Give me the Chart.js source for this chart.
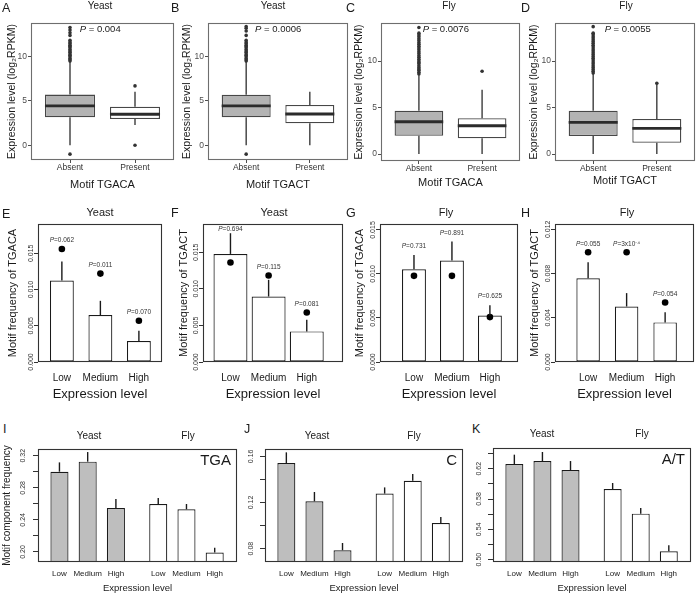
<!DOCTYPE html>
<html>
<head>
<meta charset="utf-8">
<script src="https://cdn.jsdelivr.net/npm/chart.js@4.4.1/dist/chart.umd.min.js"></script>
<style>
  html, body { margin: 0; padding: 0; background: #fff; }
  #fig { position: relative; width: 700px; height: 594px; overflow: hidden; background: #fff;
         font-family: "Liberation Sans", Arial, Helvetica, sans-serif; color: #1a1a1a; }
  #fig canvas { position: absolute; }
  .t { position: absolute; transform: translate(-50%, -50%); line-height: 1; white-space: nowrap; }
  .let { position: absolute; transform: translateY(-50%); line-height: 1; font-size: 12.5px; color: #1a1a1a; }
</style>
</head>
<body>
<div id="fig"></div>
<script>
// ---------- data ----------
// top row: boxplots, [lower whisker, Q1, median, Q3, upper whisker] for Absent / Present
const boxGroups = ['Absent', 'Present'];
const boxTicks = [0, 5, 10];
const boxTickLabels = ['0', '5', '10'];
const yeastTGACA_box = [[0, 3.16, 4.44, 5.72, 9.4], [2.3, 2.97, 3.5, 4.36, 6.05]];
const yeastTGACT_box = [[0, 3.16, 4.44, 5.7, 9.4], [0, 2.48, 3.53, 4.55, 6.05]];
const flyTGACA_box = [[0, 1.96, 3.47, 4.66, 8.5], [0, 1.69, 3.04, 3.84, 6.9]];
const flyTGACT_box = [[0, 1.94, 3.4, 4.66, 8.6], [0, 1.22, 2.76, 3.76, 7.45]];
// outliers
const yeastTGACA_out = [[9.5, 9.65, 9.8, 10.0, 10.15, 10.3, 10.5, 10.65, 10.8, 11.0, 11.15, 11.3, 11.5, 11.65, 11.85, 12.4, 12.7, 13.0, 13.3, -1.0], [6.7, 0]];
const yeastTGACT_out = [[9.5, 9.65, 9.8, 10.0, 10.15, 10.3, 10.5, 10.65, 10.8, 11.0, 11.15, 11.3, 11.5, 11.65, 11.85, 12.4, 12.9, 13.2, 13.4, -1.0], []];
const flyTGACA_out = [[8.6, 8.8, 9.0, 9.15, 9.3, 9.5, 9.7, 9.85, 10.0, 10.2, 10.4, 10.6, 10.8, 11.0, 11.2, 11.4, 11.6, 11.8, 12.0, 12.2, 12.4, 12.6, 12.8, 13.0, 13.6], [8.9]];
const flyTGACT_out = [[8.7, 8.9, 9.1, 9.3, 9.5, 9.7, 9.9, 10.1, 10.3, 10.5, 10.7, 10.9, 11.1, 11.3, 11.5, 11.7, 11.9, 12.1, 12.3, 12.5, 12.7, 12.9, 13.0, 13.7], [7.6]];
const pBox = ['0.004', '0.0006', '0.0076', '0.0055'];

// middle row: motif frequency by expression level
const levels = ['Low', 'Medium', 'High'];
const freqE = [0.01124, 0.00647, 0.00289];
const errE = [0.01385, 0.00844, 0.00431];
const dotE = [0.0156, 0.0122, 0.00569];
const pE = ['0.062', '0.011', '0.070'];
const freqF = [0.01477, 0.00895, 0.00418];
const errF = [0.0176, 0.01123, 0.00577];
const dotF = [0.0136, 0.01182, 0.00677];
const pF = ['0.694', '0.115', '0.081'];
const freqG = [0.01054, 0.01153, 0.00529];
const errG = [0.01217, 0.01368, 0.00646];
const dotG = [0.00979, 0.00979, 0.0051];
const pG = ['0.731', '0.891', '0.625'];
const freqH = [0.00758, 0.00502, 0.00358];
const errH = [0.00902, 0.00623, 0.00451];
const dotH = [0.00992, 0.00992, 0.00538];
const pH = ['0.055', '3x10\u207B\u2074', '0.054'];
const ticks015 = [0, 0.005, 0.01, 0.015];
const ticks015Labels = ['0.000', '0.005', '0.010', '0.015'];
const ticks012 = [0, 0.004, 0.008, 0.012];
const ticks012Labels = ['0.000', '0.004', '0.008', '0.012'];

// bottom row: motif component frequency, yeast then fly
const compLevels = ['Low', 'Medium', 'High', 'Low', 'Medium', 'High'];
const tgaYeast = [0.3001, 0.3126, 0.2548];
const tgaYeastErr = [0.3117, 0.3246, 0.266];
const tgaFly = [0.2598, 0.2532, 0.1992];
const tgaFlyErr = [0.2673, 0.2598, 0.2054];
const cYeast = [0.1542, 0.121, 0.0786];
const cYeastErr = [0.1635, 0.1291, 0.0849];
const cFly = [0.1277, 0.1389, 0.1022];
const cFlyErr = [0.1331, 0.1447, 0.1074];
const atYeast = [0.6262, 0.6301, 0.6182];
const atYeastErr = [0.6385, 0.642, 0.6301];
const atFly = [0.5932, 0.5607, 0.511];
const atFlyErr = [0.6011, 0.5681, 0.5189];
const ticksTGA = [0.2, 0.22, 0.24, 0.26, 0.28, 0.3, 0.32];
const ticksTGALabels = ['0.20', '', '0.24', '', '0.28', '', '0.32'];
const ticksC = [0.08, 0.1, 0.12, 0.14, 0.16];
const ticksCLabels = ['0.08', '', '0.12', '', '0.16'];
const ticksAT = [0.5, 0.52, 0.54, 0.56, 0.58, 0.6, 0.62, 0.64];
const ticksATLabels = ['0.50', '', '0.54', '', '0.58', '', '0.62', ''];

// ---------- drawing ----------
const FAM = '"Liberation Sans", Arial, Helvetica, sans-serif';
Chart.defaults.font.family = FAM;
Chart.defaults.color = '#1a1a1a';
const fig = document.getElementById('fig');

const boxSlots = [1, 2];
const barSlots = [1, 2, 3];
const compSlots = [1, 2, 3, 4.5, 5.5, 6.5];
const gray = '#bebebe';

function pText(ctx, rest, x, y, size, align) {
  ctx.textBaseline = 'middle';
  ctx.font = 'italic ' + size + 'px ' + FAM;
  const w1 = ctx.measureText('P').width;
  ctx.font = size + 'px ' + FAM;
  const w2 = ctx.measureText(rest).width;
  const x0 = align === 'center' ? x - (w1 + w2) / 2 : x;
  ctx.textAlign = 'left';
  ctx.font = 'italic ' + size + 'px ' + FAM;
  ctx.fillText('P', x0, y);
  ctx.font = size + 'px ' + FAM;
  ctx.fillText(rest, x0 + w1, y);
}

function makeDeco(p) {
  return {
    id: 'deco',
    afterDatasetsDraw(chart) {
      const {ctx, chartArea: a, scales: {y}} = chart;
      const bars = chart.getDatasetMeta(0).data;
      ctx.save();
      // boxplot whiskers and medians
      if (p.stats) {
        p.stats.forEach((s, i) => {
          const el = bars[i];
          ctx.strokeStyle = '#3d3d3d';
          ctx.lineWidth = 1.4;
          ctx.beginPath();
          ctx.moveTo(el.x, y.getPixelForValue(s[3]));
          ctx.lineTo(el.x, y.getPixelForValue(s[4]));
          ctx.moveTo(el.x, y.getPixelForValue(s[1]));
          ctx.lineTo(el.x, y.getPixelForValue(s[0]));
          ctx.stroke();
          const ym = y.getPixelForValue(s[2]);
          ctx.strokeStyle = '#2b2b2b';
          ctx.lineWidth = 2.8;
          ctx.beginPath();
          ctx.moveTo(el.x - el.width / 2, ym);
          ctx.lineTo(el.x + el.width / 2, ym);
          ctx.stroke();
        });
        ctx.fillStyle = '#1a1a1a';
        pText(ctx, ' = ' + p.pTop, chart.scales.x.getPixelForValue(p.pX), a.top + 6.5, 9.5, 'left');
      }
      // error bars (upper half only)
      if (p.errTop) {
        ctx.strokeStyle = '#1a1a1a';
        ctx.lineWidth = 1.4;
        p.values.forEach((v, i) => {
          const el = bars[i];
          ctx.beginPath();
          ctx.moveTo(el.x, y.getPixelForValue(v));
          ctx.lineTo(el.x, y.getPixelForValue(p.errTop[i]));
          ctx.stroke();
        });
      }
      // P labels above each bar
      if (p.pLabels) {
        ctx.fillStyle = '#333';
        p.pLabels.forEach((t, i) => {
          const el = bars[i];
          const top = Math.min(y.getPixelForValue(p.dots[i]), y.getPixelForValue(p.errTop[i]));
          pText(ctx, '=' + t, el.x, Math.max(top - 8.5, a.top + 5), 6.5, 'center');
        });
      }
      // rotated y tick labels
      if (p.rotTicks) {
        ctx.fillStyle = '#333';
        ctx.font = '7px ' + FAM;
        ctx.textAlign = 'center';
        ctx.textBaseline = 'middle';
        p.yTicks.forEach((v, i) => {
          const t = p.yTickLabels[i];
          if (!t) return;
          ctx.save();
          ctx.translate(a.left - p.rotOff, y.getPixelForValue(v));
          ctx.rotate(-Math.PI / 2);
          ctx.fillText(t, 0, 0);
          ctx.restore();
        });
      }
      if (p.corner) {
        ctx.fillStyle = '#1a1a1a';
        ctx.font = '15px ' + FAM;
        ctx.textAlign = 'right';
        ctx.textBaseline = 'middle';
        ctx.fillText(p.corner, a.right - 6, a.top + 12);
      }
      ctx.strokeStyle = p.frameColor;
      ctx.lineWidth = 1.1;
      ctx.strokeRect(a.left + 0.5, a.top + 0.5, a.right - a.left - 1, a.bottom - a.top - 1);
      ctx.restore();
    }
  };
}

function makePanel(p) {
  const cv = document.createElement('canvas');
  cv.width = p.w;
  cv.height = p.h;
  cv.style.left = p.x0 + 'px';
  cv.style.top = p.y0 + 'px';
  cv.style.width = p.w + 'px';
  cv.style.height = p.h + 'px';
  fig.appendChild(cv);
  const bottom = p.y0 + p.h;
  const yTitle = p.yTitle
    ? {display: true, text: p.yTitle, color: '#1a1a1a', font: {size: p.yTitleSize},
       padding: {top: p.yTitleCX - p.x0 - p.yTitleSize * 0.6, bottom: 0}}
    : {display: false};
  new Chart(cv, {
    type: 'bar',
    data: {datasets: p.datasets},
    options: {
      responsive: false,
      animation: false,
      events: [],
      devicePixelRatio: 1,
      layout: {padding: {left: 0, top: p.t - p.y0, right: p.x0 + p.w - p.r, bottom: 0}},
      plugins: {legend: {display: false}, tooltip: {enabled: false}},
      scales: {
        x: {
          type: 'linear', min: p.xMin, max: p.xMax, offset: false,
          afterBuildTicks: s => { s.ticks = p.xTicks.map(v => ({value: v})); },
          afterFit: s => { s.height = bottom - p.b; },
          border: {display: false},
          grid: {display: p.xTickLen > 0, drawOnChartArea: false, drawTicks: p.xTickLen > 0,
                 tickLength: p.xTickLen, offset: false, tickColor: p.tickColor},
          ticks: {autoSkip: false, maxRotation: 0, minRotation: 0, color: p.xLabelColor,
                  font: {size: p.xLabelSize},
                  padding: Math.max(0, p.xLabelCY - p.b - p.xTickLen - p.xLabelSize * 0.6),
                  callback: (v, i) => p.xLabels[i]},
          title: {display: true, text: p.xTitle, color: '#1a1a1a', font: {size: p.xTitleSize},
                  padding: {top: 0, bottom: bottom - p.xTitleCY - p.xTitleSize * 0.6}}
        },
        y: {
          min: p.yMin, max: p.yMax, beginAtZero: false,
          afterBuildTicks: s => { s.ticks = p.yTicks.map(v => ({value: v})); },
          afterFit: s => { s.width = p.l - p.x0; },
          border: {display: false},
          grid: {drawOnChartArea: false, drawTicks: true, tickLength: p.yTickLen, tickColor: p.tickColor},
          ticks: {display: !p.rotTicks, color: '#4d4d4d', font: {size: 8.5}, padding: 1,
                  callback: (v, i) => p.yTickLabels[i]},
          title: yTitle
        }
      }
    },
    plugins: [makeDeco(p)]
  });
}

// top row: boxplots
function boxPanel(o) {
  const outPts = [];
  o.outs.forEach((arr, i) => arr.forEach(v => outPts.push({x: boxSlots[i], y: v})));
  makePanel(Object.assign({
    y0: 0, h: 196, t: 23, xMin: 0.4, xMax: 2.6, xTicks: boxSlots, xLabels: boxGroups,
    xTickLen: 3, xLabelSize: 8.5, xLabelColor: '#333', xTitleSize: 11,
    yTicks: boxTicks, yTickLabels: boxTickLabels, yTickLen: 3, tickColor: '#4d4d4d',
    yTitle: 'Expression level (log\u2082RPKM)', yTitleSize: 10.5, frameColor: '#6e6e6e',
    datasets: [
      {type: 'bar', order: 2, data: o.stats.map((s, i) => ({x: boxSlots[i], y: [s[1], s[3]]})),
       backgroundColor: ['#b3b3b3', '#ffffff'], borderColor: '#474747', borderWidth: 1.3,
       borderSkipped: false, barPercentage: 0.77, categoryPercentage: 1},
      {type: 'scatter', order: 1, data: outPts, pointRadius: 1.8, pointBorderWidth: 0,
       pointBackgroundColor: '#333'}
    ]
  }, o));
}

boxPanel({x0: 0, w: 178, l: 31, r: 174, b: 160, yMin: -1.66, yMax: 13.8, stats: yeastTGACA_box,
  outs: yeastTGACA_out, pTop: pBox[0], pX: 1.15, yTitleCX: 12, xTitle: 'Motif TGACA', xTitleCY: 185, xLabelCY: 168});
boxPanel({x0: 176, w: 176, l: 208, r: 348, b: 160, yMin: -1.66, yMax: 13.8, stats: yeastTGACT_box,
  outs: yeastTGACT_out, pTop: pBox[1], pX: 1.14, yTitleCX: 187, xTitle: 'Motif TGACT', xTitleCY: 185, xLabelCY: 168});
boxPanel({x0: 349, w: 175, l: 381, r: 520, b: 161, yMin: -0.75, yMax: 14.09, stats: flyTGACA_box,
  outs: flyTGACA_out, pTop: pBox[2], pX: 1.06, yTitleCX: 359, xTitle: 'Motif TGACA', xTitleCY: 183, xLabelCY: 169});
boxPanel({x0: 524, w: 176, l: 555, r: 695, b: 161, yMin: -0.75, yMax: 14.09, stats: flyTGACT_box,
  outs: flyTGACT_out, pTop: pBox[3], pX: 1.18, yTitleCX: 534, xTitle: 'Motif TGACT', xTitleCY: 181, xLabelCY: 168});

// middle row: frequency bars with expected-value dots
function freqPanel(o) {
  makePanel(Object.assign({
    y0: 200, h: 205, t: 224, b: 362, yMin: 0, xTicks: barSlots, xLabels: levels,
    xTickLen: 0, xLabelSize: 10, xLabelColor: '#1a1a1a', xLabelCY: 378,
    xTitle: 'Expression level', xTitleSize: 13, xTitleCY: 394,
    yTickLen: 4, tickColor: '#333', rotTicks: true, rotOff: 7,
    yTitleSize: 11, frameColor: '#333',
    datasets: [
      {type: 'bar', order: 2, data: o.values.map((v, i) => ({x: barSlots[i], y: v})),
       backgroundColor: '#ffffff', borderColor: '#1a1a1a', borderWidth: 1.2, borderSkipped: false,
       barPercentage: o.barPct, categoryPercentage: 1},
      {type: 'scatter', order: 1, data: o.dots.map((v, i) => ({x: barSlots[i], y: v})),
       pointRadius: 3.3, pointBorderWidth: 0, pointBackgroundColor: '#000'}
    ]
  }, o));
}

freqPanel({x0: 2, w: 164, l: 38, r: 162, xMin: 0.38, xMax: 3.6, barPct: 0.62, yMax: 0.01904,
  values: freqE, errTop: errE, dots: dotE, pLabels: pE, yTicks: ticks015, yTickLabels: ticks015Labels,
  yTitle: 'Motif frequency of TGACA', yTitleCX: 13});
freqPanel({x0: 172, w: 176, l: 203, r: 343, xMin: 0.28, xMax: 3.95, barPct: 0.89, yMax: 0.01886,
  values: freqF, errTop: errF, dots: dotF, pLabels: pF, yTicks: ticks015, yTickLabels: ticks015Labels,
  yTitle: 'Motif frequency of TGACT', yTitleCX: 184});
freqPanel({x0: 348, w: 174, l: 380, r: 518, xMin: 0.105, xMax: 3.74, barPct: 0.63, yMax: 0.01568,
  values: freqG, errTop: errG, dots: dotG, pLabels: pG, yTicks: ticks015, yTickLabels: ticks015Labels,
  yTitle: 'Motif frequency of TGACA', yTitleCX: 360});
freqPanel({x0: 524, w: 174, l: 555, r: 694, xMin: 0.14, xMax: 3.75, barPct: 0.61, yMax: 0.01248,
  values: freqH, errTop: errH, dots: dotH, pLabels: pH, yTicks: ticks012, yTickLabels: ticks012Labels,
  yTitle: 'Motif frequency of TGACT', yTitleCX: 535});

// bottom row: component frequency, yeast (grey) vs fly (white)
function compPanel(o) {
  const values = o.yeast.concat(o.fly);
  makePanel(Object.assign({
    y0: 440, h: 158, t: 449, b: 562, xMin: 0.24, xMax: 7.29, xTicks: compSlots, xLabels: compLevels,
    xTickLen: 0, xLabelSize: 8, xLabelColor: '#1a1a1a', xLabelCY: 574,
    xTitle: 'Expression level', xTitleSize: 9.5, xTitleCY: 588,
    yTickLen: 5, tickColor: '#333', rotTicks: true, rotOff: 14,
    yTitleSize: 10, frameColor: '#333',
    values: values, errTop: o.yeastErr.concat(o.flyErr),
    datasets: [
      {type: 'bar', data: values.map((v, i) => ({x: compSlots[i], y: v})),
       backgroundColor: values.map((v, i) => i < 3 ? gray : '#ffffff'),
       borderColor: '#1a1a1a', borderWidth: 1.2, borderSkipped: false,
       barPercentage: 0.64, categoryPercentage: 1}
    ]
  }, o));
}

compPanel({x0: 0, w: 240, l: 38, r: 237, yMin: 0.1875, yMax: 0.3284, yeast: tgaYeast, yeastErr: tgaYeastErr,
  fly: tgaFly, flyErr: tgaFlyErr, yTicks: ticksTGA, yTickLabels: ticksTGALabels, corner: 'TGA',
  rotOff: 15, yTitle: 'Motif component frequency', yTitleCX: 7});
compPanel({x0: 240, w: 227, l: 265, r: 463, yMin: 0.0684, yMax: 0.1664, yeast: cYeast, yeastErr: cYeastErr,
  fly: cFly, flyErr: cFlyErr, yTicks: ticksC, yTickLabels: ticksCLabels, corner: 'C'});
compPanel({x0: 468, w: 230, l: 493, r: 691, t: 448, yMin: 0.4969, yMax: 0.6473, yeast: atYeast, yeastErr: atYeastErr,
  fly: atFly, flyErr: atFlyErr, yTicks: ticksAT, yTickLabels: ticksATLabels, corner: 'A/T'});

// panel letters and species headings
const letters = [['A', 2, 7.5], ['B', 171, 7.5], ['C', 346, 7.5], ['D', 521, 7.5],
                 ['E', 2, 214], ['F', 171, 213], ['G', 346, 213], ['H', 521, 213],
                 ['I', 3, 429], ['J', 244, 429], ['K', 472, 429]];
letters.forEach(([t, x, y]) => {
  const d = document.createElement('div');
  d.className = 'let';
  d.textContent = t;
  d.style.left = x + 'px';
  d.style.top = y + 'px';
  fig.appendChild(d);
});
const heads = [['Yeast', 100, 6, 10], ['Yeast', 273, 6, 10], ['Fly', 449, 6, 10], ['Fly', 626, 6, 10],
               ['Yeast', 100, 212, 11], ['Yeast', 274, 212, 11], ['Fly', 446, 212, 11], ['Fly', 627, 212, 11],
               ['Yeast', 89, 436, 10], ['Fly', 188, 436, 10], ['Yeast', 317, 436, 10], ['Fly', 414, 436, 10],
               ['Yeast', 542, 434, 10], ['Fly', 642, 434, 10]];
heads.forEach(([t, x, y, s]) => {
  const d = document.createElement('div');
  d.className = 't';
  d.textContent = t;
  d.style.left = x + 'px';
  d.style.top = y + 'px';
  d.style.fontSize = s + 'px';
  fig.appendChild(d);
});
</script>
</body>
</html>
